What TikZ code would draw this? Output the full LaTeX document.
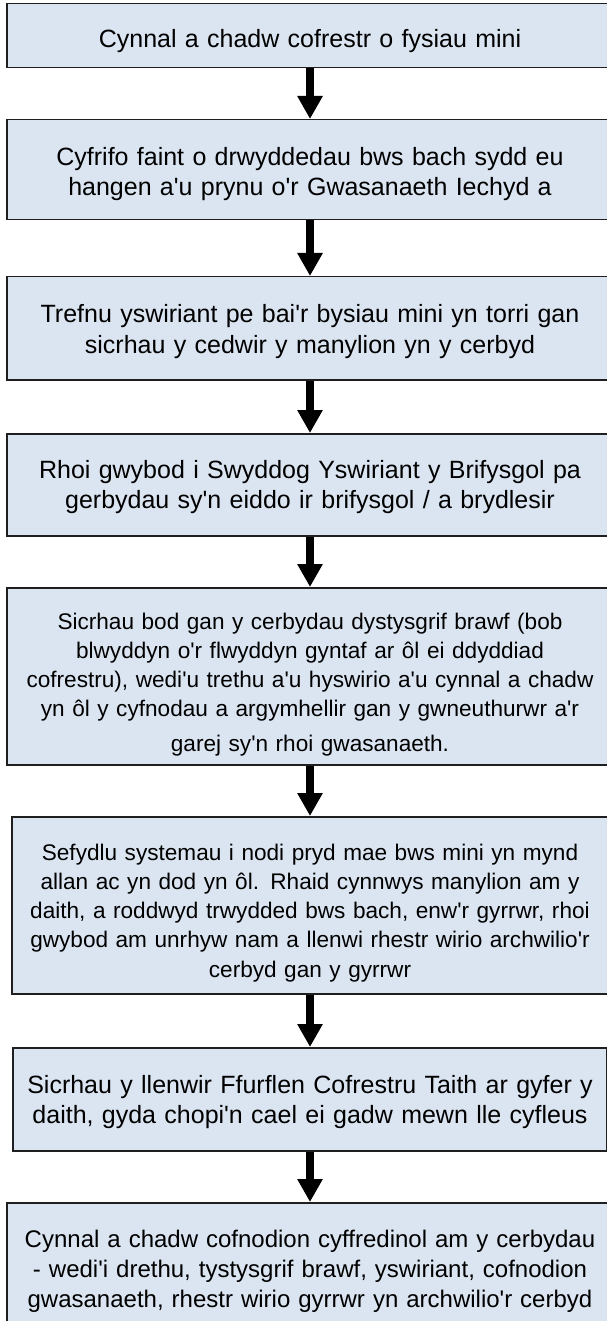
\documentclass[tikz,border=0pt]{standalone}
\usepackage{fontspec}
\newfontfamily\stepfont{Liberation Sans}
\usetikzlibrary{arrows.meta}
\definecolor{boxblue}{RGB}{219,229,241}
\tikzset{
  stepbox/.style={draw=black!88, line width=1.5pt, fill=boxblue, anchor=north,
    minimum width=606pt, minimum height=#1, inner sep=0pt},
  steptext/.style={text width=590pt, align=center, anchor=base, inner sep=0pt,
    font=\stepfont\fontsize{25}{30}\selectfont},
  smalltext/.style={steptext, font=\stepfont\fontsize{22.6}{29.3}\selectfont},
  flow/.style={line width=8pt, -{Triangle[width=24pt,length=23pt]}}
}
\begin{document}
\begin{tikzpicture}[x=1pt,y=-1pt]
  \useasboundingbox (0,0) rectangle (606,1321);
  % boxes
  \node[stepbox=64pt] (b1) at (310,3) {};
  \node[stepbox=100pt] (b2) at (310,119) {};
  \node[stepbox=103pt] (b3) at (310,276) {};
  \node[stepbox=102pt] (b4) at (310,433) {};
  \node[stepbox=177pt] (b5) at (310,587) {};
  \node[stepbox=177pt, minimum width=596pt] (b6) at (310,816) {};
  \node[stepbox=103pt, minimum width=594pt] (b7) at (310,1047) {};
  \node[stepbox=135pt] (b8) at (310,1202) {};
  % texts
  \node[steptext] (t1) at (310,48) {Cynnal a chadw cofrestr o fysiau mini};
  \node[steptext] (t2) at (310,166) {Cyfrifo faint o drwyddedau bws bach sydd eu\\
    hangen a'u prynu o'r Gwasanaeth Iechyd a};
  \node[steptext] (t3) at (310,323) {Trefnu yswiriant pe bai'r bysiau mini yn torri gan\\
    sicrhau y cedwir y manylion yn y cerbyd};
  \node[steptext] (t4) at (310,478) {Rhoi gwybod i Swyddog Yswiriant y Brifysgol pa\\
    gerbydau sy'n eiddo ir brifysgol / a brydlesir};
  \begin{scope}
    \clip (b5.north west) rectangle ([yshift=9pt]b5.south east);
    \node[smalltext] (t5) at (310,629) {Sicrhau bod gan y cerbydau dystysgrif brawf (bob\\
      blwyddyn o'r flwyddyn gyntaf ar ôl ei ddyddiad\\
      cofrestru), wedi'u trethu a'u hyswirio a'u cynnal a chadw\\
      yn ôl y cyfnodau a argymhellir gan y gwneuthurwr a'r\\[5pt]
      garej sy'n rhoi gwasanaeth.};
  \end{scope}
  \node[smalltext] (t6) at (310,860) {Sefydlu systemau i nodi pryd mae bws mini yn mynd\\
    allan ac yn dod yn ôl. Rhaid cynnwys manylion am y\\
    daith, a roddwyd trwydded bws bach, enw'r gyrrwr, rhoi\\
    gwybod am unrhyw nam a llenwi rhestr wirio archwilio'r\\
    cerbyd gan y gyrrwr};
  \node[steptext] (t7) at (310,1093) {Sicrhau y llenwir Ffurflen Cofrestru Taith ar gyfer y\\
    daith, gyda chopi'n cael ei gadw mewn lle cyfleus};
  \node[steptext, font=\stepfont\fontsize{24}{30}\selectfont] (t8) at (310,1247)
    {Cynnal a chadw cofnodion cyffredinol am y cerbydau\\
    - wedi'i drethu, tystysgrif brawf, yswiriant, cofnodion\\
    gwasanaeth, rhestr wirio gyrrwr yn archwilio'r cerbyd};
  % arrows
  \draw[flow] (b1) -- (b2);
  \draw[flow] (b2) -- (b3);
  \draw[flow] (b3) -- (b4);
  \draw[flow] (b4) -- (b5);
  \draw[flow] (b5) -- (b6);
  \draw[flow] (b6) -- (b7);
  \draw[flow] (b7) -- (b8);
\end{tikzpicture}
\end{document}
